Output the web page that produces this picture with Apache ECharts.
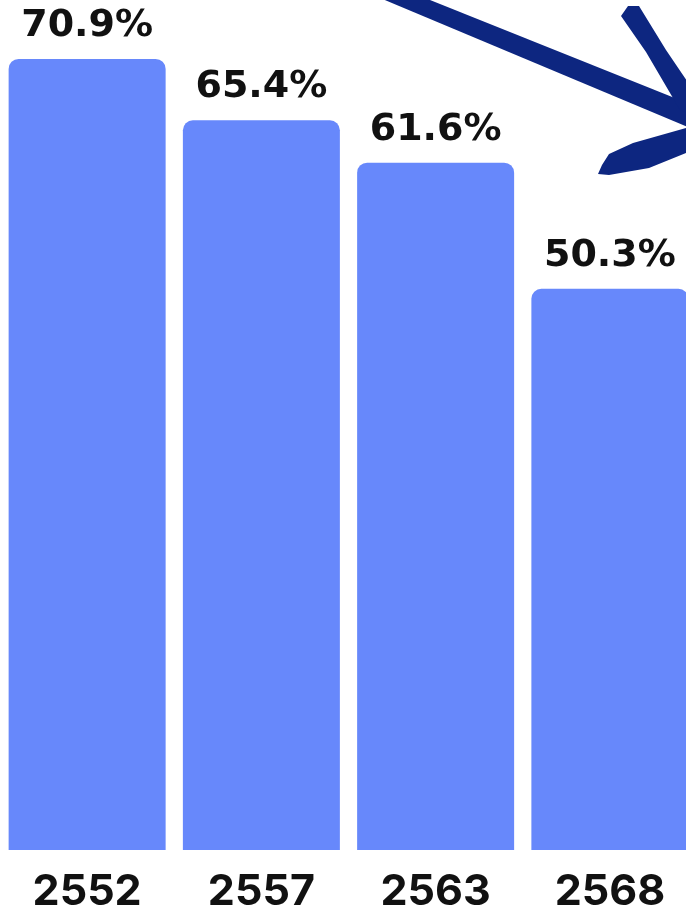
<!DOCTYPE html>
<html>
<head>
<meta charset="utf-8">
<script src="https://cdn.jsdelivr.net/npm/echarts@6/dist/echarts.min.js"></script>
<style>
  html, body { margin: 0; padding: 0; background: #ffffff; }
  #chart { width: 686px; height: 912px; }
</style>
</head>
<body>
<div id="chart"></div>
<script>
var years = ['2552', '2557', '2563', '2568'];
var shares = [70.9, 65.4, 61.6, 50.3];

var chartDom = document.getElementById('chart');
var myChart = echarts.init(chartDom);

var navy = '#0d2680';

var option = {
    backgroundColor: '#ffffff',
    animation: false,
    grid: {
        left: 0,
        right: -11,
        top: 2,
        bottom: 62,
        outerBoundsMode: 'none'
    },
    xAxis: {
        type: 'category',
        data: years,
        axisLine: { show: false },
        axisTick: { show: false },
        axisLabel: {
            margin: 21,
            color: '#111111',
            fontFamily: 'Inter',
            fontWeight: 'bold',
            fontSize: 43
        }
    },
    yAxis: {
        type: 'value',
        min: 0,
        max: 76,
        show: false,
        splitLine: { show: false }
    },
    series: [
        {
            type: 'bar',
            data: shares,
            barWidth: 157,
            itemStyle: {
                color: '#6788fb',
                borderRadius: [10, 10, 0, 0]
            },
            label: {
                show: true,
                position: 'top',
                distance: 14,
                color: '#111111',
                fontFamily: 'DejaVu Sans',
                fontWeight: 'bold',
                fontSize: 38,
                formatter: function (p) {
                    return p.value.toFixed(1) + '%';
                }
            }
        }
    ],
    // hand-drawn arrow pointing down-right
    graphic: [
        {
            type: 'polygon',
            z: 10,
            shape: { points: [[380, -2], [425, -2], [700, 108], [700, 132]] },
            style: { fill: navy }
        },
        {
            type: 'polygon',
            z: 10,
            shape: { points: [[621, 16], [628, 6], [639, 6], [666, 50], [700, 100], [700, 118], [680, 110], [646, 52]] },
            style: { fill: navy }
        },
        {
            type: 'polygon',
            z: 10,
            shape: { points: [[598, 174], [602, 165], [609, 154], [633, 143], [686, 128], [700, 126], [700, 150], [686, 153], [649, 168], [609, 175]] },
            style: { fill: navy }
        }
    ]
};

option && myChart.setOption(option);
</script>
</body>
</html>
